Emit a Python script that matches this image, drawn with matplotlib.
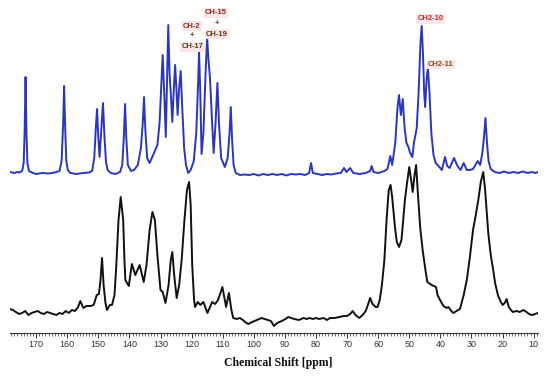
import matplotlib
matplotlib.use("Agg")
import matplotlib.pyplot as plt
from matplotlib.ticker import MultipleLocator

# ---- data ----
# upper (blue) spectrum: chemical shift [ppm] and intensity above its own baseline
blue_ppm = [178.4, 177, 176, 175.5, 174.5, 174.0, 173.7, 173.4, 173.1, 172.8, 172.3, 171, 170, 168, 166, 164,
            162.5, 161.8, 161.3, 161.0, 160.7, 160.3, 159.8, 159, 157, 155, 153, 152, 151.3, 150.8, 150.4,
            150.0, 149.6, 149.1, 148.5, 148.0, 147.5, 147, 146, 144.5, 143, 142.3, 141.8, 141.4, 141.0, 140.5,
            139.5, 138.5, 137.3, 136.3, 135.7, 135.3, 134.9, 134.3, 133.5, 132.5, 131.7, 131.0, 130.3, 129.7,
            129.3, 128.8, 128.3, 127.9, 127.5, 127.1, 126.7, 126.2, 125.7, 125.3, 124.9, 124.5, 124.0, 123.5,
            123.0, 122.4, 121.8, 121.1, 120.3, 119.3, 118.5, 117.9, 117.6, 117.2, 116.8, 116.2, 115.5, 115.0,
            114.5, 114.1, 113.4, 112.9, 112.3, 111.7, 111.2, 110.5, 109.3, 108.4, 107.8, 107.4, 107.0, 106.5,
            105.8, 104.5, 103, 101.5, 100, 98.5, 97, 95.5, 94, 92.5, 91, 89.5, 88, 86.5, 85, 83.5, 82.2, 81.6,
            81.0, 79.5, 78, 76.5, 75, 73.5, 72, 71, 70.2, 69, 68, 66, 64, 62.6, 62.1, 61.5, 60, 58, 57, 56.1,
            55.5, 54.5, 53.8, 53.3, 52.7, 52.1, 51.5, 50.9, 50.4, 49.7, 49.0, 48.5, 48.2, 47.6, 47.0, 46.4,
            46.0, 45.6, 45.2, 44.9, 44.4, 44.0, 43.5, 42.9, 42.2, 41.5, 40.6, 39.5, 38.5, 37.8, 37.0, 35.6,
            34.5, 33.5, 32.5, 31.5, 30.5, 29.5, 28.0, 27.2, 26.5, 26.0, 25.5, 25.0, 24.5, 23.8, 22.5, 21, 19.5,
            18, 16.5, 15, 13.5, 12, 10.5, 9.5, 8.6]
blue_int = [1, 0, 1, 0.5, 2, 10, 40, 96, 40, 10, 2, 0, -1, 0, -0.5, 0.5,
            2, 12, 50, 87, 50, 12, 3, 0, -1, 0, 0.5, 2, 15, 45, 64,
            35, 16, 40, 70, 35, 10, 3, 0, -1, 1, 8, 35, 69, 35, 8,
            2, 3, 8, 25, 50, 76, 45, 15, 10, 17, 23, 28, 50, 90,
            118, 80, 36, 90, 148, 100, 80, 51, 85, 108, 85, 58, 85, 102,
            65, 25, 8, 0, 3, 12, 40, 90, 121, 80, 19, 40, 100, 135,
            110, 96, 50, 20, 50, 90, 50, 15, 6, 15, 40, 66, 35, 8,
            0, -2, -1.5, -2, -1, -2.5, -1, -2, -1, -2, -1, -2.5, -1, -1.5, -1, -2, 0, 10,
            0, -1, -2, -1, -1.5, -0.5, 0, 5, 1, 5, 0, -1, 0, 2, 7, 1, 0, 2, 4, 17,
            8, 30, 65, 78, 58, 74, 45, 30, 27, 20, 16, 30, 35, 45, 80, 130,
            147, 120, 80, 66, 95, 105, 80, 40, 18, 10, 7, 3, 16, 7, 5, 15,
            7, 3, 10, 3, 3, 4, 12, 8, 20, 35, 55, 30, 12, 4, 1, 0, 1.5,
            0, 1, 0, 1.5, 0, 1, 0, 1]

# lower (black) spectrum
black_ppm = [178.5, 177.5, 176.5, 175.5, 174.5, 173.5, 172.5, 171.5, 170.5, 169.5, 168.5, 167.5, 166.5, 165.5,
             164.5, 163.5, 162.5, 161.5, 160.5, 159.5, 158.5, 157.5, 156.5, 155.8, 154.8, 153.8, 152.5, 151.5,
             150.5, 149.8, 149.3, 148.8, 148.3, 147.7, 147.2, 146.3, 145.6, 144.8, 144.3, 143.5, 142.8, 142.0,
             141.6, 141.3, 140.2, 139.2, 138.1, 136.7, 135.4, 134.5, 133.5, 132.6, 131.8, 131.0, 130.0, 129.3,
             128.4, 127.4, 126.7, 126.2, 125.6, 124.8, 124.0, 123.2, 122.3, 121.5, 120.8, 120.3, 119.8, 119.2,
             118.9, 118.0, 117.2, 116.2, 114.9, 113.4, 112.4, 111.5, 110.1, 108.9, 108.0, 107.2, 106.6, 105.5,
             104.5, 103.5, 102.8, 101.8, 100.5, 99, 97.5, 96.5, 95.5, 94.5, 93.5, 92.5, 91, 89.8, 88.9, 88, 87,
             85.5, 84, 83, 82, 81, 80, 79, 77.5, 76.5, 75.5, 74, 72.5, 71, 70, 69, 68.2, 67.3, 66.1, 65, 64, 63,
             62.6, 61.8, 60.8, 60.2, 59.5, 58.8, 58.0, 57.3, 56.6, 56.0, 55.5, 54.6, 54.0, 53.3, 52.5, 51.4, 50.8,
             50.0, 49.4, 48.9, 48.3, 47.8, 47.3, 46.5, 45.7, 44.8, 44.2, 42.8, 41.4, 40.9, 40.1, 39, 38.0, 37.4,
             36.5, 35.8, 34.8, 33.7, 32.5, 31.5, 30.5, 29.5, 28.6, 27.8, 27.0, 26.2, 25.6, 25.0, 24.6, 23.8, 23.0,
             22.4, 21.5, 20.7, 20.0, 19.3, 18.7, 18.0, 17.3, 16.7, 15.5, 14.5, 13.3, 12.3, 11.5, 10.6, 9.5, 8.6]
black_int = [6, 5, 3, 1, 2, 4, 0, 2, 3, 4, 2, 1, 3, 2,
             1, 0, 2, 1, 4, 2, 5, 4, 8, 14, 7, 9, 9, 10,
             20, 21, 35, 57, 30, 12, 5, 10, 10, 20, 45, 95, 118, 95,
             55, 35, 29, 51, 40, 50, 33, 50, 85, 103, 95, 60, 25, 23,
             12, 30, 55, 63, 40, 17, 30, 55, 95, 125, 133, 110, 50, 15,
             8, 13, 10, 13, 2, 13, 11, 15, 28, 8, 22, 5, -3, -4,
             -3, -5, -7, -9, -7, -5, -3, -4, -5, -6, -11, -8, -6, -4, -2, -3, -4,
             -5, -3, -4, -3, -4, -3, -4, -3, -5, -3, -3, -2, -1, -1, 1, 4, 0, -3, 0, 4, 13,
             17, 11, 8, 8, 15, 30, 55, 95, 125, 130, 118, 88, 73, 68, 75, 115, 130,
             148, 135, 123, 140, 150, 125, 88, 65, 45, 33, 30, 28, 20, 15, 9, 7, 8,
             4, 2, 4, 6, 20, 35, 58, 85, 100, 115, 133, 143, 125, 100, 82, 60, 45,
             32, 20, 14, 10, 12, 16, 8, 5, 3, 4, 3, 5, 3, 1, 0, 1, 2]

tick_values = [170, 160, 150, 140, 130, 120, 110, 100, 90, 80, 70, 60, 50, 40, 30, 20, 10]
tick_labels = [str(v) for v in tick_values]
x_label = "Chemical Shift [ppm]"

peak_labels = ["CH-15", "+", "CH-19", "CH-2", "+", "CH-17", "CH2-10", "CH2-11"]
peak_label_colors = ["#8e2a1c", "#5a3d10", "#5a3d10", "#8e2a1c", "#5a3d10", "#4f4212", "#c0302a", "#87551c"]

# ---- drawing ----
W, H = 550, 380
fig = plt.figure(figsize=(5.5, 3.8), dpi=100)
ax = fig.add_axes([10 / W, 47 / H, 528 / W, 333 / H])

BLUE_OFFSET = 142
ax.plot(black_ppm, black_int, color="#111111", lw=1.4, solid_joinstyle="round")
ax.plot(blue_ppm, [v + BLUE_OFFSET for v in blue_int], color="#2a35c0", lw=1.4, solid_joinstyle="round")

ax.set_xlim(178.4, 8.6)
ax.set_ylim(-18, 315)
for s in ("left", "top", "right"):
    ax.spines[s].set_visible(False)
ax.spines["bottom"].set_linewidth(0.8)
ax.spines["bottom"].set_color("#333333")
ax.set_yticks([])
ax.set_xticks(tick_values)
ax.set_xticklabels(tick_labels)
ax.xaxis.set_minor_locator(MultipleLocator(1))
ax.tick_params(axis="x", which="major", length=3.5, width=0.7, color="#333333",
               labelsize=6.5, labelcolor="#333333", pad=1.5)
ax.tick_params(axis="x", which="minor", length=2.2, width=0.5, color="#333333")
for lab in ax.get_xticklabels():
    lab.set_fontfamily("Liberation Sans")

fig.text(278 / W, 1 - 363 / H, x_label, ha="center", va="center",
         family="Liberation Serif", weight="bold", fontsize=8.5, color="#111111")

label_px = [(216, 13), (216.5, 23.5), (217, 34), (192, 26), (192, 36), (192.5, 47), (430.5, 19), (441, 64.3)]
for (px, py), txt, col in zip(label_px, peak_labels, peak_label_colors):
    bbox = None if txt == "+" else dict(boxstyle="square,pad=0.15", fc="#fbe4ea", ec="none")
    fig.text(px / W, 1 - py / H, txt, ha="center", va="center", family="Liberation Sans",
             weight="bold", fontsize=5.5, color=col, bbox=bbox)

fig.savefig("out.png", dpi=100, facecolor="white")
